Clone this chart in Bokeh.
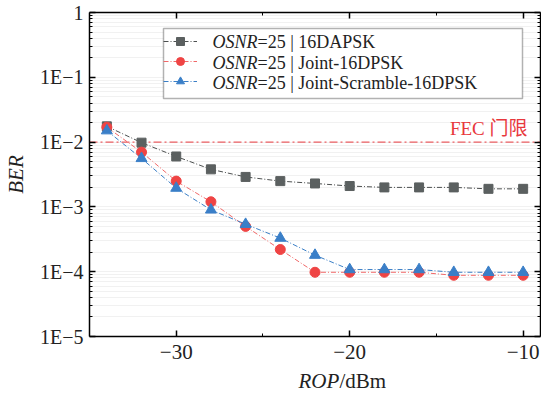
from bokeh.plotting import figure
from bokeh.models import (FixedTicker, LogAxis, LinearAxis, Legend, LegendItem,
                          Label, Range1d, CustomJSTickFormatter, BoxAnnotation)
from bokeh.embed import file_html
from bokeh.resources import INLINE

# ---- data ----
rop = [-34, -32, -30, -28, -26, -24, -22, -20, -18, -16, -14, -12, -10]
ber_16dapsk = [1.75e-2, 9.8e-3, 6.0e-3, 3.8e-3, 2.9e-3, 2.5e-3, 2.3e-3,
               2.1e-3, 2.0e-3, 2.0e-3, 2.0e-3, 1.9e-3, 1.9e-3]
ber_joint = [1.7e-2, 7.0e-3, 2.5e-3, 1.2e-3, 5.0e-4, 2.2e-4, 9.8e-5,
             9.8e-5, 9.8e-5, 9.8e-5, 8.8e-5, 8.8e-5, 8.8e-5]
ber_scramble = [1.5e-2, 5.6e-3, 1.95e-3, 9.0e-4, 5.4e-4, 3.3e-4, 1.8e-4,
                1.08e-4, 1.08e-4, 1.08e-4, 9.8e-5, 9.8e-5, 9.8e-5]
fec_limit = 1e-2
series_names = ["=25 | 16DAPSK", "=25 | Joint-16DPSK", "=25 | Joint-Scramble-16DPSK"]
x_ticks = [-30, -20, -10]
x_tick_labels = ["\u221230", "\u221220", "\u221210"]
y_ticks = [1e-5, 1e-4, 1e-3, 1e-2, 1e-1, 1]
y_tick_labels = ["1E\u22125", "1E\u22124", "1E\u22123", "1E\u22122", "1E\u22121", "1"]

SERIF = "'Liberation Serif'"
CJK = "'Liberation Serif', 'Noto Sans CJK SC'"

X0, X1 = -35, -9
Y0, Y1 = 1e-5, 1
FL, FT, FW, FH = 89, 12, 451, 324   # frame left/top/width/height in page px

p = figure(frame_width=FW, frame_height=FH, y_axis_type="log",
           x_range=Range1d(X0, X1), y_range=Range1d(Y0, Y1),
           output_backend="svg", toolbar_location=None,
           min_border_left=FL, min_border_top=FT, min_border_right=1,
           min_border_bottom=399 - FT - FH, background_fill_color="white")
p.outline_line_color = None

minor_y = [k * 10.0 ** e for e in range(-5, 0) for k in range(2, 10)]
yt = FixedTicker(ticks=y_ticks, minor_ticks=minor_y)
xt = FixedTicker(ticks=x_ticks, minor_ticks=[-25, -15])

yfmt = CustomJSTickFormatter(args=dict(tvals=y_ticks, tlabels=y_tick_labels), code="""
let best = 0, bd = 1e9;
for (let i = 0; i < tvals.length; i++) {
  const d = Math.abs(Math.log10(tvals[i]) - Math.log10(tick));
  if (d < bd) { bd = d; best = i; }
}
return tlabels[best];
""")
blank = CustomJSTickFormatter(code="return '';")


def style_axis(ax):
    ax.axis_line_color = "black"
    ax.axis_line_width = 1.5
    ax.major_tick_line_color = "black"
    ax.minor_tick_line_color = "black"
    ax.major_tick_line_width = 1.5
    ax.minor_tick_line_width = 1
    ax.major_tick_in = 6
    ax.major_tick_out = 0
    ax.minor_tick_in = 3
    ax.minor_tick_out = 0
    ax.major_label_text_font = SERIF
    ax.major_label_text_color = "#222222"


# left / bottom
ya = p.yaxis[0]
ya.ticker = yt
ya.formatter = yfmt
style_axis(ya)
ya.major_label_text_font_size = "20px"
ya.major_label_standoff = 6
ya.axis_label = "BER"
ya.axis_label_text_font = SERIF
ya.axis_label_text_font_style = "italic"
ya.axis_label_text_font_size = "21px"
ya.axis_label_text_color = "#222222"
ya.axis_label_standoff = 9

xa = p.xaxis[0]
xa.ticker = xt
xa.major_label_overrides = dict(zip(x_ticks, x_tick_labels))
style_axis(xa)
xa.major_label_text_font_size = "21px"
xa.major_label_standoff = 8

# right / top mirrored axes
ra = LogAxis(ticker=yt, formatter=blank)
style_axis(ra)
ra.major_label_text_font_size = "0px"
ra.major_label_standoff = 0
p.add_layout(ra, "right")

ta = LinearAxis(ticker=xt, formatter=blank)
style_axis(ta)
ta.major_label_text_font_size = "0px"
ta.major_label_standoff = 0
p.add_layout(ta, "above")

p.xgrid.visible = False
p.ygrid.ticker = yt
p.ygrid.grid_line_color = "#e2e2e2"
p.ygrid.grid_line_dash = "1 1"
p.ygrid.minor_grid_line_color = "#e2e2e2"
p.ygrid.minor_grid_line_dash = "1 1"


def px_to_x(px):
    return X0 + (px - FL) / FW * (X1 - X0)


def py_to_y(py):
    return 10 ** (-(py - FT) / (FH / 5.0))


# legend box (white background + black border)
p.add_layout(BoxAnnotation(left=px_to_x(163), right=px_to_x(522),
                           top=py_to_y(28), bottom=py_to_y(98),
                           fill_color="white", fill_alpha=1,
                           line_color="black", line_width=1.5,
                           level="underlay", editable=False))

# FEC threshold
p.line([X0, X1], [fec_limit, fec_limit], line_color="#e8383d", line_width=1,
       line_dash="8 3 2 3")

dash = "5 2 1 2"
g_line = p.line(rop, ber_16dapsk, line_color="#4d5050", line_width=1, line_dash=dash)
g_mark = p.scatter(rop, ber_16dapsk, marker="square", size=9, fill_color="#5b6060",
                   line_color="#5b6060")
r_line = p.line(rop, ber_joint, line_color="#f06868", line_width=1, line_dash=dash)
r_mark = p.scatter(rop, ber_joint, marker="circle", size=10, fill_color="#ef4444",
                   line_color="#ef4444")
b_line = p.line(rop, ber_scramble, line_color="#3b7fc6", line_width=1, line_dash=dash)
b_mark = p.scatter(rop, ber_scramble, marker="triangle", size=11, fill_color="#3a7fc8",
                   line_color="#3a7fc8")

legend = Legend(items=[LegendItem(label=" ", renderers=[g_line, g_mark]),
                       LegendItem(label="  ", renderers=[r_line, r_mark]),
                       LegendItem(label="   ", renderers=[b_line, b_mark])],
                location=(163 - FL, FT + FH - 91), padding=5, spacing=0, margin=0,
                glyph_width=34, glyph_height=20, label_standoff=6,
                label_width=309, label_height=20, label_text_font_size="10px",
                border_line_color=None, background_fill_alpha=0)
p.add_layout(legend)

for row, name in zip([41, 62, 82], series_names):
    sy = FT + FH - row
    p.add_layout(Label(x=212 - FL, y=sy, x_units="screen", y_units="screen",
                       text="OSNR", text_font=SERIF, text_font_style="italic",
                       text_font_size="18px", text_baseline="middle",
                       text_color="#222222", level="overlay"))
    p.add_layout(Label(x=212 - FL + 45, y=sy, x_units="screen", y_units="screen",
                       text=name, text_font=SERIF, text_font_size="18px",
                       text_baseline="middle", text_color="#222222",
                       level="overlay"))

p.add_layout(Label(x=px_to_x(527), y=fec_limit, y_offset=3, text="FEC 门限",
                   text_font=CJK, text_font_size="19px", text_align="right",
                   text_baseline="bottom", text_color="#e8383d"))

# x axis label with mixed styles, placed in the panel below the frame
p.add_layout(Label(x=px_to_x(298), y=py_to_y(380),
                   text="ROP", text_font=SERIF, text_font_style="italic",
                   text_font_size="21px", text_baseline="middle",
                   text_color="#222222"), "below")
p.add_layout(Label(x=px_to_x(339), y=py_to_y(380),
                   text="/dBm", text_font=SERIF, text_font_size="21px",
                   text_baseline="middle", text_color="#222222"), "below")

open("out.html", "w").write(file_html(p, INLINE))
